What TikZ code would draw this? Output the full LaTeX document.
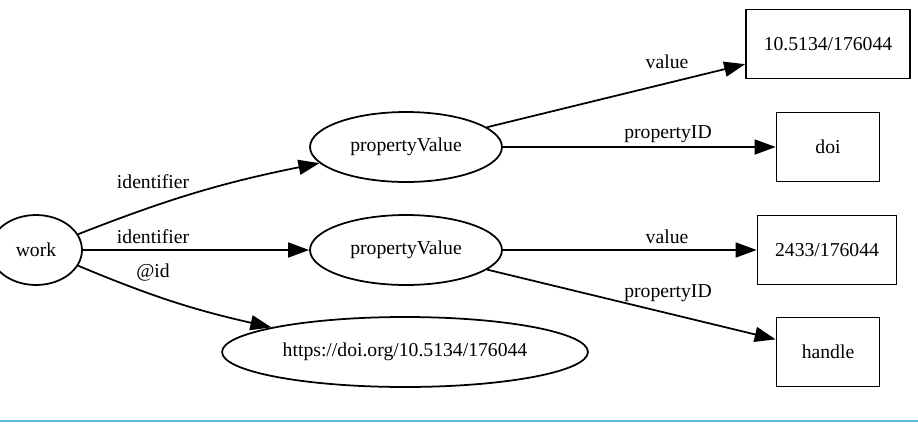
\documentclass[tikz,border=0pt]{standalone}
\usepackage{fontspec}
\setmainfont{Liberation Serif}
\usetikzlibrary{arrows.meta,positioning,shapes.geometric}
\definecolor{footline}{RGB}{92,182,230}

\begin{document}
\begin{tikzpicture}[>={Triangle[length=0.42cm,width=0.3cm]}, x=0.02cm, y=-0.02cm,
  line width=1pt, font=\fontsize{11.2}{13}\selectfont,
  blob/.style={draw, ellipse, inner sep=0pt, minimum height=1.4cm},
  leaf/.style={draw, rectangle, inner sep=0pt, minimum height=1.38cm}]
\useasboundingbox (0,0) rectangle (918,426);

\node[blob, minimum width=1.84cm] (work) at (36,250) {work};
\node[blob, minimum width=3.84cm] (pv1) at (406,147) {propertyValue};
\node[blob, minimum width=3.84cm] (pv2) at (406,250) {propertyValue};
\node[blob, minimum width=7.32cm] (url) at (405,352) {https://doi.org/10.5134/176044};

\node[leaf, minimum width=3.28cm] (doinum) at (828,44) {10.5134/176044};
\node[leaf, minimum width=2.06cm] (doi) at (828,147) {doi};
\node[leaf, minimum width=2.78cm] (hdlnum) at (827,250) {2433/176044};
\node[leaf, minimum width=2.06cm] (handle) at (828,352) {handle};

\draw[->] (work) to[bend left=5] (pv1);
\draw[->] (work) -- (pv2);
\draw[->] (work) to[bend right=5] (url);
\draw[->] (pv1) -- (doinum);
\draw[->] (pv1) -- (doi);
\draw[->] (pv2) -- (hdlnum);
\draw[->] (pv2) -- (handle);

\node (lid1) at (153,182) {identifier};
\node (lid2) at (153,237) {identifier};
\node (lat) at (153,273) {@id};
\node (lval1) at (667,62) {value};
\node (lprop1) at (668,134) {propertyID};
\node (lval2) at (667,237) {value};
\node (lprop2) at (668,293) {propertyID};

\coordinate (footl) at (0,421);
\coordinate (footr) at (918,421);
\draw[footline, line width=0.05cm] (footl) -- (footr);
\end{tikzpicture}
\end{document}
